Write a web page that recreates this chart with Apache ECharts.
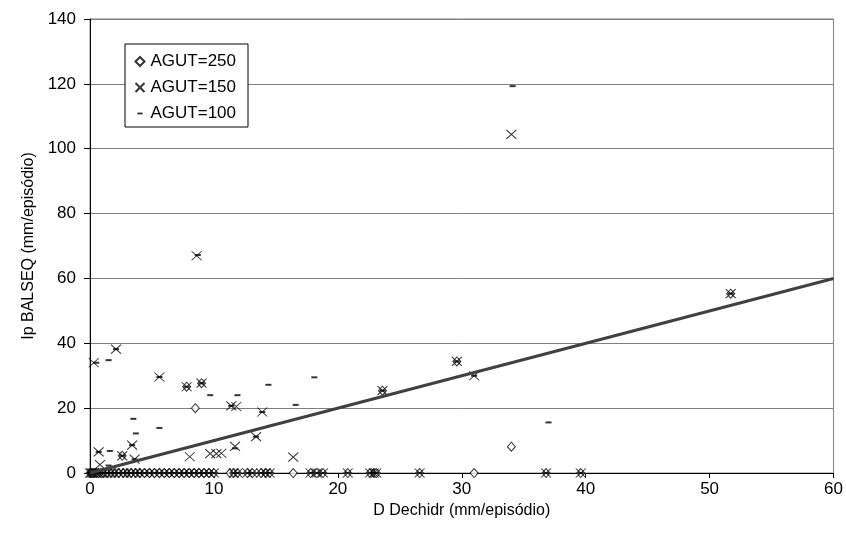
<!DOCTYPE html>
<html>
<head>
<meta charset="utf-8">
<script src="https://cdn.jsdelivr.net/npm/echarts@6/dist/echarts.min.js"></script>
<style>
  html, body { margin: 0; padding: 0; background: #fff; }
  #chart { width: 846px; height: 549px; }
</style>
</head>
<body>
<div id="chart"></div>
<script>
// events where every run gives zero percolation (x = D Dechidr)
var zeroEvents = [0, 0.1, 0.2, 0.3, 0.5, 0.7, 0.9, 1.1, 1.4, 1.7, 2.0, 2.3, 2.7, 3.0, 3.3,
  3.7, 4.0, 4.4, 4.8, 5.2, 5.6, 6.0, 6.4, 6.8, 7.2, 7.6, 8.0, 8.4, 8.8, 9.2, 9.6, 10.0,
  11.6, 11.9, 12.7, 13.1, 13.8, 14.2, 14.5, 17.8, 18.3, 18.8, 20.8, 22.6, 22.9, 23.1,
  26.6, 36.8, 39.6];

// AGUT=250 (diamonds)
var agut250 = [[8.5, 20], [34.0, 8.1], [11.3, 0], [16.4, 0], [31.0, 0], [2.6, 5.3],
  [7.8, 26.6], [9.0, 27.7], [23.6, 25.4], [29.6, 34.4], [51.7, 55.3]];

// AGUT=150 (crosses)
var agut150 = [[0.3, 34], [2.1, 38.2], [5.6, 29.6], [7.8, 26.6], [9.0, 27.7], [8.6, 67],
  [11.4, 20.7], [11.8, 20.5], [13.9, 18.8], [0.7, 6.5], [2.6, 5.3], [3.4, 8.6], [3.6, 4.3],
  [0.8, 2.6], [8.05, 5.0], [9.7, 6.0], [10.2, 6.0], [10.6, 6.1], [11.7, 8.2], [13.4, 11.2],
  [16.4, 4.9], [23.6, 25.4], [29.6, 34.4], [31.0, 30.0], [34.0, 104.4], [51.7, 55.3]];

// AGUT=100 (dashes)
var agut100 = [[0.5, 34], [1.5, 34.8], [2.1, 38.2], [5.6, 29.6], [7.8, 26.6], [9.0, 27.7],
  [8.7, 67.2], [9.7, 24.0], [11.9, 24.0], [11.4, 20.7], [13.9, 18.8], [14.4, 27.2],
  [16.6, 21], [18.1, 29.5], [3.5, 16.7], [3.7, 12.2], [5.6, 13.9], [0.7, 6.5], [1.6, 6.8],
  [2.6, 5.3], [3.4, 8.6], [1.5, 2.3], [3.6, 4.2], [11.7, 7.6], [13.4, 11.2], [23.6, 25.4],
  [29.6, 34.4], [31.0, 30], [34.1, 119.3], [37.0, 15.6], [51.7, 55.3]];

// 1:1 line
var lineX = [0, 60];

var font = "'Liberation Sans', Arial, sans-serif";

function withZeros(pts) {
  return pts.concat(zeroEvents.map(function (x) { return [x, 0]; }));
}

var crossPath = "path://M0,0L10,10M10,0L0,10";

var chart = echarts.init(document.getElementById("chart"));
chart.setOption({
  animation: false,
  backgroundColor: "#fff",
  grid: {
    left: 90, right: 11, top: 19, bottom: 76,
    show: true, borderColor: "#808080", borderWidth: 1
  },
  legend: {
    orient: "vertical",
    left: 125, top: 44,
    padding: [9, 12, 5, 8],
    itemGap: 9,
    itemWidth: 9, itemHeight: 9,
    backgroundColor: "#fff",
    borderColor: "#000", borderWidth: 1,
    textStyle: { fontFamily: font, fontSize: 17, color: "#000", padding: [0, 0, 0, 1] },
    data: [
      { name: "AGUT=250", icon: "path://M5,0L10,5L5,10L0,5Z" },
      { name: "AGUT=150", icon: crossPath },
      { name: "AGUT=100", icon: "path://M0,0M10,10M2,4L8,4L8,6L2,6Z" }
    ]
  },
  xAxis: {
    type: "value",
    min: 0, max: 60, interval: 10,
    name: "D Dechidr (mm/episódio)",
    nameLocation: "middle",
    nameGap: 30,
    nameTextStyle: { fontFamily: font, fontSize: 16, color: "#000" },
    axisLine: { lineStyle: { color: "#000", width: 1 } },
    axisTick: { show: true, length: 5, lineStyle: { color: "#000" } },
    axisLabel: { fontFamily: font, fontSize: 17, color: "#000", margin: 8 },
    splitLine: { show: false }
  },
  yAxis: {
    type: "value",
    min: 0, max: 140, interval: 20,
    name: "Ip BALSEQ (mm/episódio)",
    nameLocation: "middle",
    nameGap: 50,
    nameTextStyle: { fontFamily: font, fontSize: 16, color: "#000" },
    axisLine: { show: true, lineStyle: { color: "#000", width: 1 } },
    axisTick: { show: true, length: 6, lineStyle: { color: "#000" } },
    axisLabel: { fontFamily: font, fontSize: 17, color: "#000", margin: 14 },
    splitLine: { show: true, lineStyle: { color: "#808080", width: 1 } }
  },
  series: [
    {
      name: "AGUT=250",
      type: "scatter",
      symbol: "diamond",
      symbolSize: [8, 9],
      itemStyle: { color: "#fff", borderColor: "#000", borderWidth: 1 },
      data: withZeros(agut250),
      z: 3
    },
    {
      name: "AGUT=150",
      type: "scatter",
      symbol: crossPath,
      symbolSize: [10, 9],
      itemStyle: { color: "none", borderColor: "#000", borderWidth: 1 },
      data: withZeros(agut150),
      z: 4
    },
    {
      name: "AGUT=100",
      type: "scatter",
      symbol: "rect",
      symbolSize: [6, 2],
      itemStyle: { color: "#000" },
      data: withZeros(agut100),
      z: 5
    },
    {
      name: "1:1",
      type: "line",
      showSymbol: false,
      lineStyle: { color: "#404040", width: 3 },
      data: lineX.map(function (x) { return [x, x]; }),
      z: 6
    }
  ]
});
</script>
</body>
</html>
